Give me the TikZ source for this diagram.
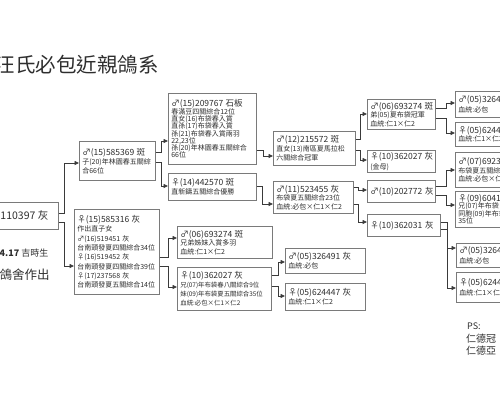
\documentclass[tikz,border=0pt]{standalone}
\usepackage{fontspec}
\setmainfont{Noto Sans CJK TC}
\usetikzlibrary{arrows.meta}
\definecolor{boxgray}{HTML}{7A7A7A}
\definecolor{linegray}{HTML}{3A3A3A}
\definecolor{txt}{HTML}{2E2E2E}
\newcommand\pgt{\fontsize{8.5}{9}\selectfont}
\newcommand\pgd[2]{\fontsize{#1}{#2}\selectfont\lineskiplimit=-20pt\relax}
\begin{document}
\begin{tikzpicture}[x=1pt,y=-1pt,
  pbox/.style={draw=boxgray, line width=0.7pt, fill=white, anchor=north west,
    inner xsep=3pt, inner ysep=0pt, align=left, text=txt},
  conn/.style={draw=linegray, line width=0.8pt, -{Triangle[length=4.5pt,width=4pt]}},
  plain/.style={anchor=west, inner sep=0pt, text=txt}
]
\useasboundingbox (0,0) rectangle (500,400);

% title and side texts
\node[plain, font=\fontsize{20.5}{22}\selectfont] (title) at (-5.5,65) {汪氏必包近親鴿系};
\node[plain, font=\fontsize{9}{10}\selectfont] (date) at (-0.5,253) {\textbf{4.17}~吉時生};
\node[plain, font=\fontsize{12.5}{14}\selectfont] (maker) at (-0.5,275) {鴿舍作出};
\node[plain, font=\fontsize{9}{10}\selectfont] (ps) at (467,326) {PS:};
\node[plain, font=\fontsize{10}{11}\selectfont] (ps1) at (466,339) {仁德冠};
\node[plain, font=\fontsize{10}{11}\selectfont] (ps2) at (466,351) {仁德亞};

% root
\node[pbox, align=center, minimum width=68pt, minimum height=27pt,
  font=\fontsize{10.5}{12}\selectfont] (root) at (-10,202) {110397~灰};

% generation 1
\node[pbox, minimum width=76pt, minimum height=39pt, text width=70pt, font={\pgd{7}{9}}] (A) at (79,141)
 {{\pgt ♂(15)585369~斑}\\子(20)年林園春五關綜\\合66位};
\node[pbox, minimum width=85pt, minimum height=85pt, text width=79pt, font={\pgd{7}{9.3}}] (B) at (74,209)
 {{\pgt ♀(15)585316~灰}\\作出直子女\\♂(16)519451~灰\\台南頭發夏四關綜合34位\\♀(16)519452~灰\\台南頭發夏四關綜合39位\\♀(17)237568~灰\\台南頭發夏五關綜合14位};

% generation 2
\node[pbox, minimum width=88pt, minimum height=71pt, text width=82pt, font={\pgd{7}{7.2}}] (C) at (168,93)
 {{\pgt ♂(15)209767~石板}\\[0.8pt]春滿豆四關綜合12位\\直女(16)布袋春入賞\\直孫(17)布袋春入賞\\孫(21)布袋春入賞兩羽\\22,23位\\孫(20)年林園春五關綜合\\66位};
\node[pbox, minimum width=88pt, minimum height=27pt, text width=82pt, font={\pgd{7}{9}}] (D) at (168,173)
 {{\pgt ♀(14)442570~斑}\\直新鑄五關綜合優勝};
\node[pbox, minimum width=95pt, minimum height=32pt, text width=89pt, font={\pgd{7}{8.5}}] (E) at (177,226)
 {{\pgt ♂(06)693274~斑}\\兄弟姊妹入賞多羽\\血統:仁1×仁2};
\node[pbox, minimum width=94pt, minimum height=43pt, text width=88pt, font={\pgd{6.4}{9.2}}] (F) at (177,267)
 {{\pgt ♀(10)362027~灰}\\兄(07)年布袋春八關綜合9位\\妹(09)年布袋夏五關綜合35位\\血統:必包×仁1×仁2};

% generation 3
\node[pbox, minimum width=82pt, minimum height=34pt, text width=76pt, font={\pgd{7}{9.3}}] (G) at (273,131)
 {{\pgt ♂(12)215572~斑}\\直女(13)南區夏馬拉松\\六關綜合冠軍};
\node[pbox, minimum width=80pt, minimum height=32pt, text width=74pt, font={\pgd{7}{8.6}}] (H) at (273,181)
 {{\pgt ♂(11)523455~灰}\\布袋夏五關綜合23位\\血統:必包×仁1×仁2};
\node[pbox, minimum width=80pt, minimum height=25pt, text width=74pt, font={\pgd{7}{9.5}}] (R) at (285,248)
 {{\pgt ♂(05)326491~灰}\\血統:必包};
\node[pbox, minimum width=80pt, minimum height=27pt, text width=74pt, font={\pgd{7}{9.5}}] (S) at (285,283)
 {{\pgt ♀(05)624447~灰}\\血統:仁1×仁2};

% generation 4
\node[pbox, minimum width=68pt, minimum height=30pt, text width=62pt, font={\pgd{7}{8.5}}] (K) at (367,99)
 {{\pgt ♂(06)693274~斑}\\弟(05)夏布袋冠軍\\血統:仁1×仁2};
\node[pbox, minimum width=68pt, minimum height=22pt, text width=62pt, font={\pgd{7}{9.5}}] (I) at (367,150)
 {{\pgt ♀(10)362027~灰}\\(金母)};
\node[pbox, minimum width=68pt, minimum height=22pt, text width=62pt, font=\pgt] (J) at (367,180)
 {♂(10)202772~灰};
\node[pbox, minimum width=73pt, minimum height=22pt, text width=67pt, font=\pgt] (J2) at (367,214)
 {♀(10)362031~灰};

% generation 5 (cut at the right edge)
\node[pbox, minimum width=60pt, minimum height=26pt, text width=54pt, font={\pgd{7}{9.5}}] (L) at (455,91)
 {{\pgt ♂(05)326491~灰}\\血統:必包};
\node[pbox, minimum width=60pt, minimum height=24pt, text width=54pt, font={\pgd{7}{8.5}}] (M) at (455,122)
 {{\pgt ♀(05)624447~灰}\\血統:仁1×仁2};
\node[pbox, minimum width=60pt, minimum height=35pt, text width=54pt, font={\pgd{7}{8.2}}] (N) at (455,152)
 {{\pgt ♂(07)6923}\\布袋夏五關綜\\血統:必包×仁1×仁2};
\node[pbox, minimum width=60pt, minimum height=36pt, text width=54pt, font={\pgd{7}{7.3}}] (O) at (455,191)
 {{\pgt ♀(09)6041}\\兄(07)年布袋\\同胞(09)年布袋\\35位};
\node[pbox, minimum width=60pt, minimum height=24pt, text width=54pt, font={\pgd{7}{9.5}}] (P) at (456,243)
 {{\pgt ♂(05)326491~灰}\\血統:必包};
\node[pbox, minimum width=60pt, minimum height=30pt, text width=54pt, font={\pgd{7}{10.5}}] (Q) at (456,272)
 {{\pgt ♀(05)624447~灰}\\血統:仁1×仁2};

% connectors
\draw[conn] (root.east |- 0,213) -- ++(6,0) |- (A.west |- 0,163);
\draw[conn] (root.east |- 0,222) -- ++(6,0) |- (B.west |- 0,266);
\draw[conn] (A.east |- 0,152) -- ++(6,0) |- (C.west |- 0,141);
\draw[conn] (A.east |- 0,162) -- ++(6,0) |- (D.west |- 0,186);
\draw[conn] (B.east |- 0,257) -- ++(9,0) |- (E.west |- 0,238);
\draw[conn] (B.east |- 0,266) -- ++(9,0) |- (F.west |- 0,287);
\draw[conn] (C.east |- 0,150) -- ++(7,0) |- (G.west |- 0,156);
\draw[conn] (D.east |- 0,186) -- ++(6,0) |- (H.west |- 0,204);
\draw[conn] (F.east |- 0,275) -- ++(7,0) |- (R.west |- 0,262);
\draw[conn] (F.east |- 0,286) -- ++(7,0) |- (S.west |- 0,296);
\draw[conn] (G.east |- 0,139) -- ++(5,0) |- (K.west |- 0,114);
\draw[conn] (G.east |- 0,150) -- ++(5,0) |- (I.west |- 0,160);
\draw[conn] (H.east |- 0,187) -- ++(5,0) |- (J.west |- 0,190);
\draw[conn] (H.east |- 0,204) -- ++(5,0) |- (J2.west |- 0,222);
\draw[conn] (K.east |- 0,108) -- ++(11,0) |- (L.west |- 0,103);
\draw[conn] (K.east |- 0,118) -- ++(11,0) |- (M.west |- 0,133);
\draw[conn] (J.east |- 0,186) -- ++(11,0) |- (N.west |- 0,170);
\draw[conn] (J.east |- 0,195) -- ++(11,0) |- (O.west |- 0,205);
\draw[conn] (J2.east |- 0,222) -- ++(7,0) |- (P.west |- 0,248);
\draw[conn] (J2.east |- 0,229) -- ++(7,0) |- (Q.west |- 0,288);
\end{tikzpicture}
\end{document}
